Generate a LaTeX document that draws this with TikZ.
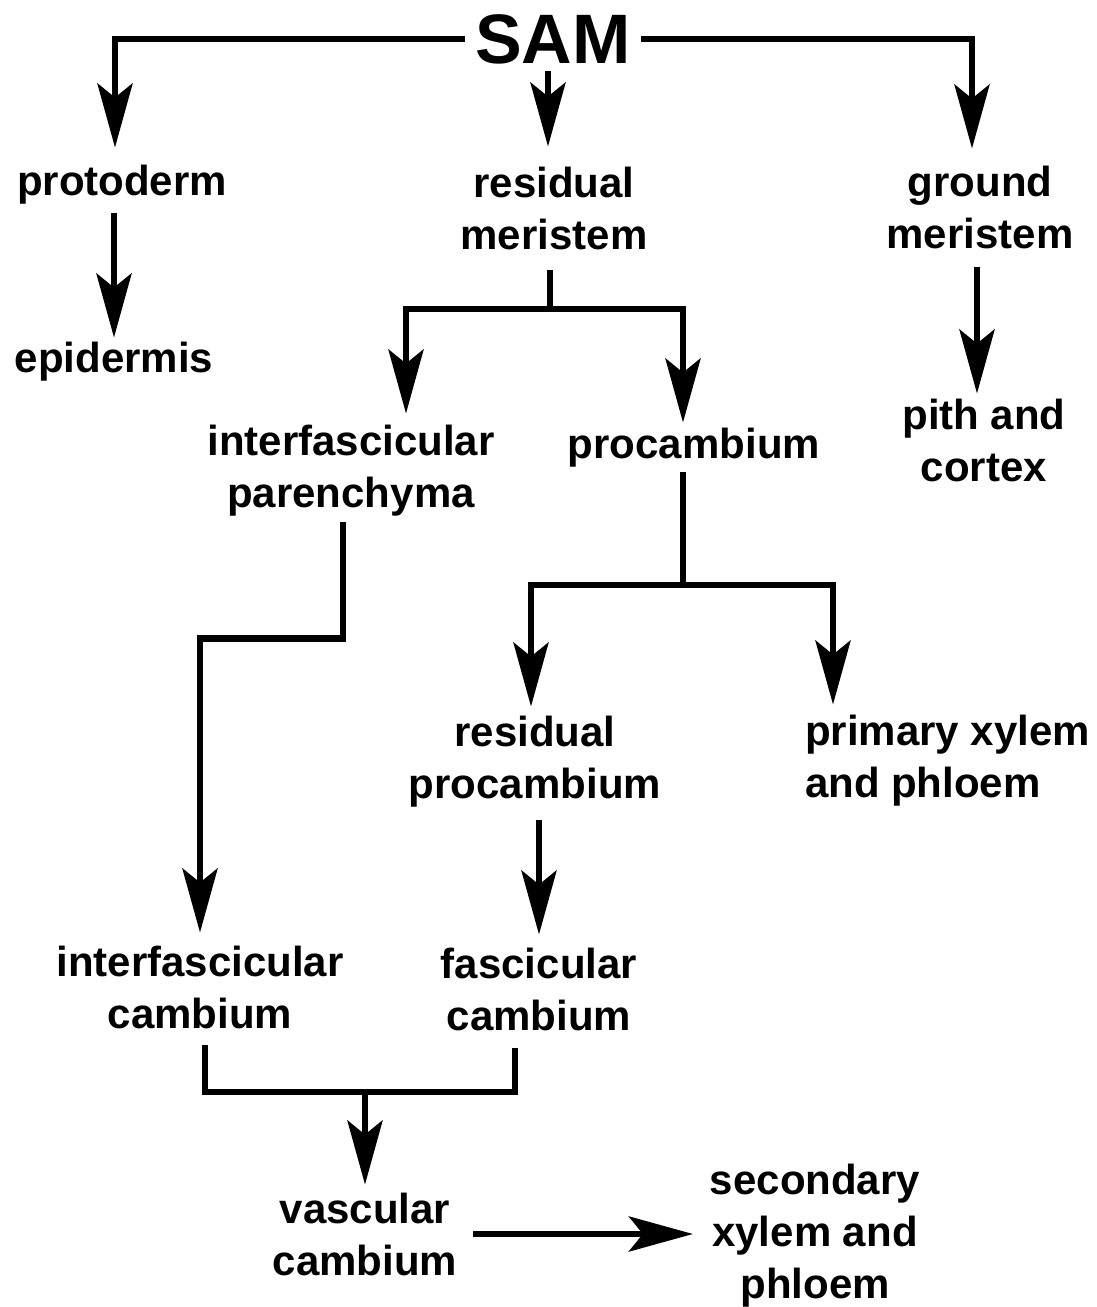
\documentclass[tikz,border=0pt]{standalone}
\usepackage{fontspec}
\setmainfont{Liberation Sans}
\usetikzlibrary{arrows.meta,calc}
\begin{document}
\begin{tikzpicture}[x=1pt,y=-1pt,
  lbl/.style={font=\fontsize{42pt}{52pt}\selectfont\bfseries, align=center,
              inner sep=0pt, outer sep=0pt, anchor=base},
  link/.style={line width=6.5pt, draw=black},
  arr/.style={link, -{Stealth[length=64pt,width=35pt,inset=14pt]}}]
\useasboundingbox (0,0) rectangle (1097,1307);

% labels (base anchor = baseline of the last line)
\node[lbl, font=\fontsize{70pt}{80pt}\selectfont\bfseries, inner xsep=10pt] (sam) at (553,63) {SAM};
\node[lbl] (proto)   at (122,195)  {protoderm};
\node[lbl] (epi)     at (114,372)  {epidermis};
\node[lbl] (resmer)  at (554,249)  {residual\\meristem};
\node[lbl] (ground)  at (980,248)  {ground\\meristem};
\node[lbl] (pith)    at (984,481)  {pith and\\cortex};
\node[lbl] (parench) at (351,507)  {interfascicular\\parenchyma};
\node[lbl] (procamb) at (694,458)  {procambium};
\node[lbl, anchor=base west, align=left] (prim) at (805,797) {primary xylem\\and phloem};
\node[lbl] (resproc) at (535,798)  {residual\\procambium};
\node[lbl] (intcamb) at (200,1028) {interfascicular\\cambium};
\node[lbl] (fascamb) at (539,1030) {fascicular\\cambium};
\node[lbl] (vasc)    at (365,1275) {vascular\\cambium};
\node[lbl] (second)  at (815,1298) {secondary\\xylem and\\phloem};

% junction points
\coordinate (rb) at (550,309);
\coordinate (pb) at (683,585);
\coordinate (vj) at (365,1092);

% SAM to its three derivatives
\draw[arr, shorten >=17pt] (sam.west) -| ([xshift=-7pt]proto.north);
\draw[arr, shorten >=17pt] (sam.east) -| ([xshift=-8pt]ground.north);
\draw[arr, shorten <=7pt, shorten >=20pt] ([xshift=-5pt]sam.south) -- ([xshift=-5pt]sam.south |- resmer.north);

% single steps
\draw[arr, shorten <=9pt, shorten >=4pt] (epi.north |- proto.south) -- (epi.north);
\draw[arr, shorten <=19pt, shorten >=5pt] ([xshift=-3pt]ground.south) -- ([xshift=-3pt]ground.south |- pith.north);

% residual meristem branches
\draw[link, shorten <=21pt] (rb |- resmer.south) -- (rb);
\draw[arr, shorten >=11pt] (rb) -| ([xshift=55pt]parench.north);
\draw[arr, shorten >=5pt] (rb) -| ([xshift=-11pt]procamb.north);

% procambium branches
\draw[link, shorten <=5pt] ([xshift=-11pt]procamb.south) -- (pb);
\draw[arr, shorten >=9pt] (pb) -| ([xshift=-4pt]resproc.north);
\draw[arr, shorten >=10pt] (pb) -| ([xshift=28pt]prim.north west);

% parenchyma to interfascicular cambium
\draw[arr, shorten <=6pt, shorten >=13pt] ([xshift=-8pt]parench.south) -- ++(0,123) -| (intcamb.north);

% residual procambium to fascicular cambium
\draw[arr, shorten <=13pt, shorten >=13pt] (fascamb.north |- resproc.south) -- (fascamb.north);

% both cambia join into the vascular cambium
\draw[link] ([xshift=5pt,yshift=-17pt]intcamb.south) |- ([xshift=-24pt]fascamb.south |- vj)
  -- ([xshift=-24pt,yshift=-18pt]fascamb.south);
\draw[arr, shorten >=8pt] (vj) -- (vasc.north);

% vascular cambium to secondary tissues
\draw[arr, shorten <=16pt, shorten >=17pt] (vasc.east) -- (vasc.east -| second.west);
\end{tikzpicture}
\end{document}
